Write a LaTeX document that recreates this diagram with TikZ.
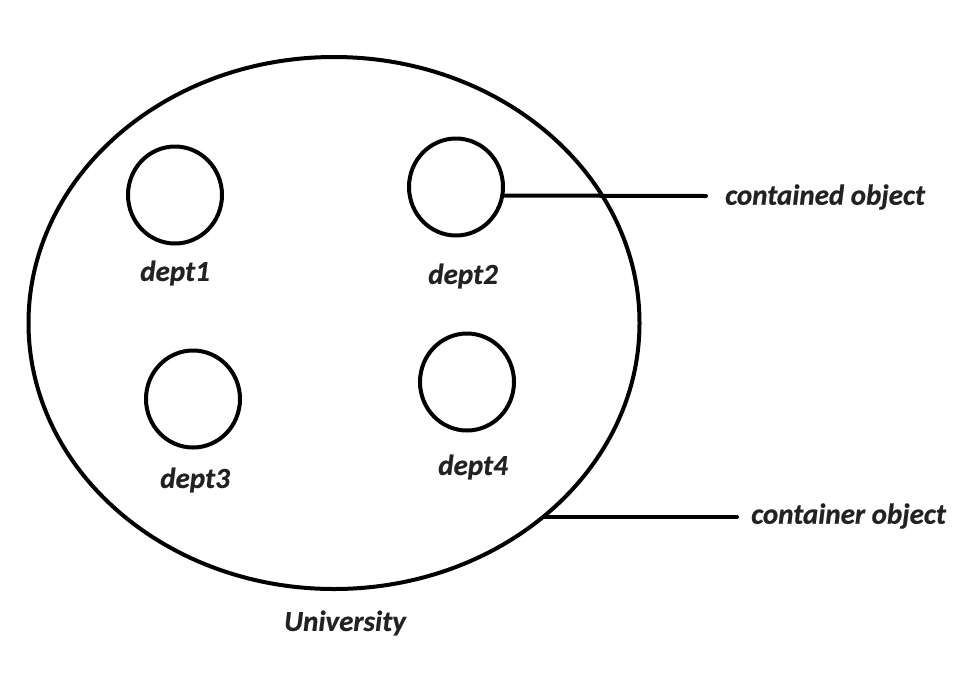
\documentclass[tikz,border=0pt]{standalone}
\usepackage{fontspec}
\setmainfont{Carlito}[BoldItalicFeatures={FakeBold=0.6}]
\usetikzlibrary{shapes.geometric}
\definecolor{labelgray}{HTML}{222222}
\begin{document}
\begin{tikzpicture}[x=1pt,y=-1pt,
  outline/.style={draw=black,line width=4pt},
  dept/.style={outline,ellipse,inner sep=0pt,minimum width=94pt,minimum height=97pt},
  lbl/.style={text=labelgray,font=\fontsize{29}{33}\selectfont\bfseries\itshape,inner sep=0pt},
  leader/.style={draw=black,line width=4pt,line cap=round}]
  \useasboundingbox (0,0) rectangle (976,678);
  % container
  \node[outline,ellipse,inner sep=0pt,minimum width=611pt,minimum height=532pt] (uni) at (334,323) {};
  % departments
  \node[dept] (d1) at (175,195) {};
  \node[dept] (d2) at (456,187) {};
  \node[dept] (d3) at (193,399) {};
  \node[dept] (d4) at (467,382) {};
  % labels
  \node[lbl] (l1) at (175,273) {dept1};
  \node[lbl] (l2) at (463,276) {dept2};
  \node[lbl] (l3) at (195,480) {dept3};
  \node[lbl] (l4) at (473,467) {dept4};
  \node[lbl] (lu) at (345,623) {University};
  % leader lines
  \coordinate (e1) at (706,196);
  \coordinate (e2) at (737,517);
  \draw[leader] (d2.-10) -- (e1);
  \draw[leader] (e2 -| uni.-43) -- (e2);
  \node[lbl,anchor=west] (lc1) at (725,197) {contained object};
  \node[lbl,anchor=west] (lc2) at (751,516) {container object};
\end{tikzpicture}
\end{document}
